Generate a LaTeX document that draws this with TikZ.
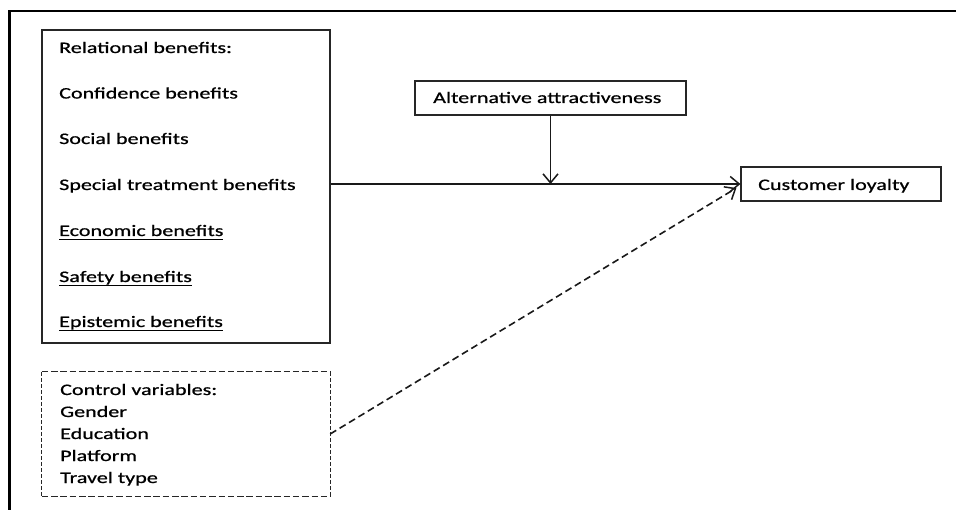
\documentclass[tikz,border=0pt]{standalone}
\usepackage{fontspec}
\setmainfont[FakeStretch=1.38,FakeBold=0.8]{Carlito}
\newcommand\myul[1]{\setbox0\hbox{#1}\rlap{\rule[-3.6pt]{\wd0}{1pt}}\box0}
\usetikzlibrary{arrows.meta,calc}
\tikzset{
  box/.style={draw=black!85, line width=1.2pt, rectangle, inner sep=0pt},
  plainbox/.style={rectangle, inner sep=0pt},
  hdash/.style={draw=black!85, line width=1.1pt, dash pattern=on 6.5pt off 2.8pt},
  vdash/.style={draw=black!85, line width=1.1pt, dash pattern=on 4pt off 2pt},
  txt/.style={anchor=base west, inner sep=0pt, font=\fontsize{16}{19}\selectfont, text=black},
  link/.style={draw=black!90, line width=1.6pt, -{Straight Barb[length=9pt,width=15pt,line width=1.5pt]}},
  dlink/.style={link, dash pattern=on 7pt off 4pt}
}
\begin{document}
\begin{tikzpicture}[x=1pt,y=-1pt]
\useasboundingbox (0,0) rectangle (956,510);
% outer frame (partial)
\draw[line width=2.3pt, line cap=rect] (9.5,512) -- (9.5,11) -- (958,11);
% boxes
\node[box, minimum width=288pt, minimum height=313pt] (rel) at (186,186.5) {};
\node[plainbox, minimum width=288pt, minimum height=124pt] (ctrl) at (186,434) {};
\draw[hdash] (ctrl.north west) -- (ctrl.north east);
\draw[hdash] (ctrl.south west) -- (ctrl.south east);
\draw[vdash] (ctrl.north west) -- (ctrl.south west);
\draw[vdash] (ctrl.north east) -- (ctrl.south east);
\node[box, minimum width=271pt, minimum height=34pt] (alt) at (550.5,98) {};
\node[box, minimum width=200pt, minimum height=34pt] (loyal) at (841,184) {};
% texts in relational box
\node[txt] (r0) at (59,53) {Relational benefits:};
\node[txt] (r1) at (59,98.5) {Confidence benefits};
\node[txt] (r2) at (59,144) {Social benefits};
\node[txt] (r3) at (59,190) {Special treatment benefits};
\node[txt] (r4) at (59,236) {\myul{Economic benefits}};
\node[txt] (r5) at (59,282) {\myul{Safety benefits}};
\node[txt] (r6) at (59,327) {\myul{Epistemic benefits}};
% texts in control box
\node[txt] (c0) at (60,395) {Control variables:};
\node[txt] (c1) at (60,417) {Gender};
\node[txt] (c2) at (60,439) {Education};
\node[txt] (c3) at (60,461) {Platform};
\node[txt] (c4) at (60,483) {Travel type};
% other texts
\node[txt] (at) at (433,103) {Alternative attractiveness};
\node[txt] (lt) at (758,190) {Customer loyalty};
% connectors
\coordinate (mid) at (alt.south |- loyal.west);
\coordinate (dtip) at ($(loyal.west)+(-4,4)$);
\draw[link] (rel.east |- loyal.west) -- (loyal.west);
\draw[link] (alt.south) -- (mid);
\draw[dlink] (ctrl.east) -- (dtip);
\end{tikzpicture}
\end{document}
